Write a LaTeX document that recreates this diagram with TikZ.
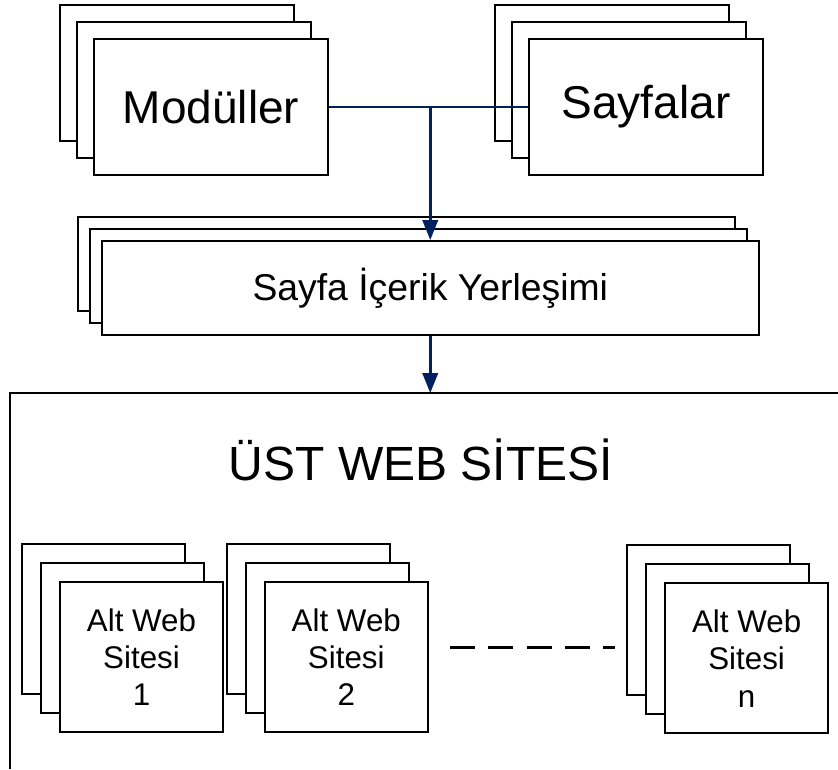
\documentclass[tikz,border=0pt]{standalone}
\usepackage{fontspec}
\setmainfont{Liberation Sans}
\usetikzlibrary{arrows.meta}
\definecolor{navy}{RGB}{0,32,96}
\begin{document}
\begin{tikzpicture}[x=0.75pt,y=-0.75pt,
  card/.style={draw=black, line width=1.5pt, fill=white, inner sep=0pt, align=center},
  bigcard/.style={card, minimum width=175.5pt, minimum height=102pt,
    font=\fontsize{34.5}{40}\selectfont},
  widecard/.style={card, minimum width=493pt, minimum height=70.5pt,
    font=\fontsize{28}{33}\selectfont},
  sitecard/.style={card, minimum width=122.25pt, minimum height=112.5pt,
    font=\fontsize{23.5}{28}\selectfont},
  link/.style={draw=navy, line width=2.1pt},
  flow/.style={link, -{Triangle[length=15pt,width=11.5pt]}},
  frame/.style={draw=black, line width=1pt},
  ellipsis/.style={draw=black, line width=2.25pt, dash pattern=on 18.75pt off 10pt}]
\useasboundingbox (0,0) rectangle (838,769);

% module stack
\node[bigcard] (modC) at (177,73) {};
\node[bigcard] (modB) at (194,90) {};
\node[bigcard] (mod)  at (211,107) {Modüller};

% page stack
\node[bigcard] (sayC) at (612,73) {};
\node[bigcard] (sayB) at (629,90) {};
\node[bigcard] (say)  at (646,107) {Sayfalar};

% layout stack
\node[widecard] (yerC) at (406.25,264) {};
\node[widecard] (yerB) at (418.25,276) {};
\node[widecard] (yer)  at (430.25,288) {Sayfa İçerik Yerleşimi};

% parent site frame (open to the right and bottom)
\coordinate (ust) at (430.25,393);
\draw[frame] (838,393) -- (10,393) -- (10,769);
\node[font=\fontsize{36}{43}\selectfont, anchor=base] (title) at (421,480) {ÜST WEB SİTESİ};

% sub-site stacks
\node[sitecard] (s1C) at (103.5,619) {};
\node[sitecard] (s1B) at (122.5,638) {};
\node[sitecard] (s1)  at (141.5,657) {Alt Web\\Sitesi\\1};

\node[sitecard] (s2C) at (308.3,619) {};
\node[sitecard] (s2B) at (327.3,638) {};
\node[sitecard] (s2)  at (346.3,657) {Alt Web\\Sitesi\\2};

\node[sitecard] (snC) at (708.6,620.4) {};
\node[sitecard] (snB) at (727.6,639.4) {};
\node[sitecard] (sn)  at (746.6,658.4) {Alt Web\\Sitesi\\n};

% ellipsis between the sub-site stacks
\coordinate (dotsL) at (450,647);
\coordinate (dotsR) at (615,647);
\draw[ellipsis] (dotsL) -- (dotsR);

% connectors
\coordinate (join) at (yer.north |- mod.east);
\draw[link] (mod.east) -- (say.west);
\draw[flow] (join) -- (yer.north);
\draw[flow] (yer.south) -- (ust);
\end{tikzpicture}
\end{document}
